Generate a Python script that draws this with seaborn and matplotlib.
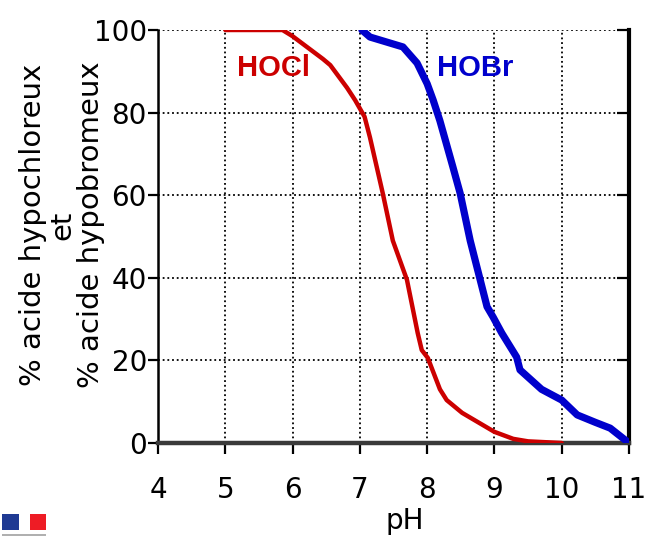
import matplotlib
matplotlib.use("Agg")
import matplotlib.pyplot as plt
from matplotlib.patches import Rectangle
import seaborn as sns
import pandas as pd

# Fraction of undissociated acid vs pH
ph_hocl = [5.0, 5.85, 6.0, 6.45, 6.56, 6.81, 6.93, 7.07, 7.15, 7.34, 7.49, 7.7,
           7.86, 7.92, 8.01, 8.19, 8.29, 8.52, 9.0, 9.28, 9.5, 10.0]
pct_hocl = [100, 100, 98.5, 93, 91.5, 86, 83, 79, 74, 60.5, 49, 39.5,
            26.6, 22.5, 20.6, 13, 10.4, 7.3, 2.7, 1.0, 0.4, 0.0]

ph_hobr = [7.03, 7.15, 7.64, 7.85, 8.0, 8.09, 8.19, 8.38, 8.49, 8.64, 8.89, 8.98,
           9.11, 9.33, 9.38, 9.7, 10.0, 10.23, 10.5, 10.72, 11.0]
pct_hobr = [100, 98.3, 95.9, 92, 87, 83, 78, 67, 60.5, 49, 33, 30.5,
            26.6, 20.8, 17.7, 13, 10.4, 6.8, 5.0, 3.6, 0.0]

x_ticks = [4, 5, 6, 7, 8, 9, 10, 11]
y_ticks = [0, 20, 40, 60, 80, 100]

df_cl = pd.DataFrame({"pH": ph_hocl, "pct": pct_hocl})
df_br = pd.DataFrame({"pH": ph_hobr, "pct": pct_hobr})

sns.set_style("white")
plt.rcParams["font.family"] = ["DejaVu Sans"]
plt.rcParams["text.color"] = "black"
plt.rcParams["xtick.color"] = "black"
plt.rcParams["ytick.color"] = "black"
plt.rcParams["xtick.labelcolor"] = "black"
plt.rcParams["ytick.labelcolor"] = "black"

fig = plt.figure(figsize=(6.54, 5.38), dpi=100)
ax = fig.add_axes([158 / 654, 1 - 443 / 538, (629 - 158) / 654, (443 - 30) / 538])

red = "#CC0000"
blue = "#0000CC"

sns.lineplot(data=df_cl, x="pH", y="pct", ax=ax, color=red, linewidth=3.2,
             estimator=None, sort=False, zorder=5)
sns.lineplot(data=df_br, x="pH", y="pct", ax=ax, color=blue, linewidth=5.2,
             estimator=None, sort=False, zorder=5)

ax.set_xlim(4, 11)
ax.set_ylim(0, 100)
ax.set_xticks(x_ticks)
ax.set_yticks(y_ticks)
ax.set_xlabel("")
ax.set_ylabel("")

ax.grid(True, color="black", linestyle=(0, (1, 1.6)), linewidth=1.3)
ax.set_axisbelow(True)

ax.spines["top"].set_visible(False)
ax.spines["left"].set_linewidth(1.8)
ax.spines["left"].set_color("black")
ax.spines["right"].set_linewidth(3.0)
ax.spines["right"].set_color("black")
ax.spines["bottom"].set_linewidth(3.2)
ax.spines["bottom"].set_color("#3a3a3a")

ax.tick_params(axis="both", which="major", labelsize=20, direction="out",
               length=8, width=1.6, color="black", labelcolor="black", pad=16)
ax.tick_params(axis="x", bottom=True)
ax.tick_params(axis="y", left=True, pad=1, length=7)

# short inward ticks on the right edge
sec = ax.secondary_yaxis("right")
sec.set_yticks(y_ticks)
sec.tick_params(axis="y", right=True, left=False, direction="in", length=9,
                width=1.6, color="black", labelright=False)
sec.spines["right"].set_visible(False)

ax.text(5.17, 90.8, "HOCl", color=red, fontsize=21, fontweight="bold",
        family="Liberation Sans", ha="left", va="center", zorder=6)
ax.text(8.15, 90.8, "HOBr", color=blue, fontsize=21, fontweight="bold",
        family="Liberation Sans", ha="left", va="center", zorder=6)

fig.text(405 / 654, 1 - 521 / 538, "pH", fontsize=20, ha="center", va="center")
fig.text(62 / 654, 1 - 225 / 538,
         "% acide hypochloreux\net\n% acide hypobromeux",
         fontsize=21, rotation=90, ha="center", va="center",
         multialignment="center", linespacing=1.05)

# small emblem in the lower left corner
fig.add_artist(Rectangle((2 / 654, 1 - 530 / 538), 17 / 654, 16 / 538,
                         transform=fig.transFigure, color="#1f3a93", lw=0))
fig.add_artist(Rectangle((30 / 654, 1 - 530 / 538), 16 / 654, 16 / 538,
                         transform=fig.transFigure, color="#ee1c25", lw=0))
fig.add_artist(Rectangle((2 / 654, 1 - 536 / 538), 44 / 654, 2 / 538,
                         transform=fig.transFigure, color="#b0b0b0", lw=0))

fig.savefig("out.png", dpi=100)
